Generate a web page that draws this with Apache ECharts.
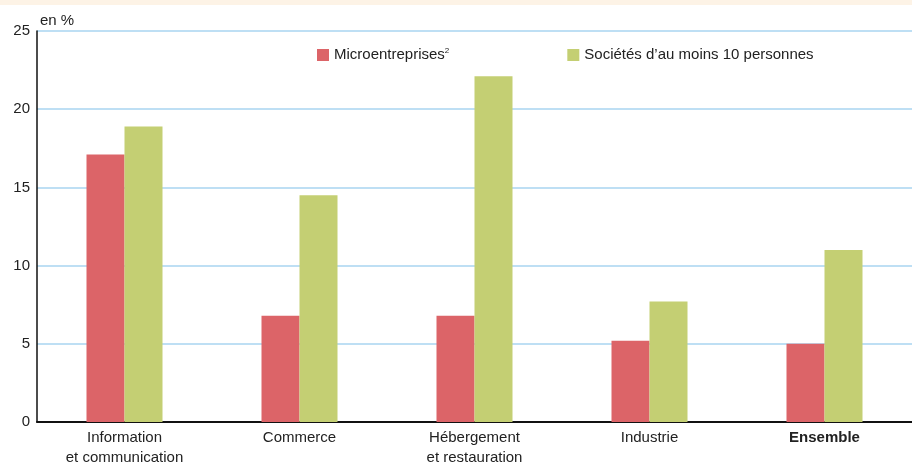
<!DOCTYPE html>
<html><head><meta charset="utf-8">
<script src="https://cdn.jsdelivr.net/npm/echarts@6/dist/echarts.min.js"></script>
<style>html,body{margin:0;padding:0;background:#fff}#band{position:absolute;left:0;top:0;width:912px;height:5px;background:#fdf3e6}#c{width:912px;height:468px}</style>
</head><body><div id="band"></div><div id="c"></div>
<script>
const categories = ['Information\net communication', 'Commerce', 'Hébergement\net restauration', 'Industrie', 'Ensemble'];
const microValues = [17.1, 6.8, 6.8, 5.2, 5.0];
const societesValues = [18.9, 14.5, 22.1, 7.7, 11.0];
const seriesNames = ['Microentreprises', 'Sociétés d\u2019au moins 10 personnes'];
const yTicks = [0, 5, 10, 15, 20, 25];

const FONT = '"Liberation Sans", Arial, sans-serif';
const chart = echarts.init(document.getElementById('c'));
chart.setOption({
  animation: false,
  textStyle: { fontFamily: FONT },
  grid: { left: 37, right: 0, top: 31, bottom: 45, containLabel: false },
  legend: {
    top: 42, left: 312, itemWidth: 12, itemHeight: 12, itemGap: 118,
    icon: 'rect',
    textStyle: { fontFamily: FONT, fontSize: 15, color: '#222',
      rich: { sup: { fontSize: 8, verticalAlign: 'top', padding: [0,0,8,0], fontFamily: FONT, color: '#222' } } },
    formatter: function (n) { return n === seriesNames[0] ? n + '{sup|2}' : n; },
    data: seriesNames
  },
  xAxis: {
    type: 'category', data: categories,
    axisLine: { lineStyle: { color: '#111', width: 2 } },
    axisTick: { show: false },
    axisLabel: {
      fontFamily: FONT, fontSize: 15, color: '#222', lineHeight: 20, margin: 6,
      formatter: function (v) { return v === 'Ensemble' ? '{b|' + v + '}' : v; },
      rich: { b: { fontWeight: 'bold', fontSize: 15, fontFamily: FONT, color: '#222' } }
    }
  },
  yAxis: {
    type: 'value', min: yTicks[0], max: yTicks[yTicks.length - 1], interval: 5,
    name: 'en %', nameLocation: 'end', nameGap: 3,
    nameTextStyle: { fontFamily: FONT, fontSize: 15, color: '#222', align: 'left', padding: [0, 0, 0, 3] },
    axisLine: { show: true, lineStyle: { color: '#111', width: 1.5 } },
    axisTick: { show: false },
    axisLabel: { fontFamily: FONT, fontSize: 15, color: '#222', margin: 7 },
    splitLine: { lineStyle: { color: '#a9d5f0', width: 1.5 } }
  },
  series: [
    { name: seriesNames[0], type: 'bar', data: microValues, barWidth: 38, barGap: '0%', itemStyle: { color: '#dc6468' } },
    { name: seriesNames[1], type: 'bar', data: societesValues, barWidth: 38, barGap: '0%', itemStyle: { color: '#c4cf73' } }
  ]
});
</script></body></html>
